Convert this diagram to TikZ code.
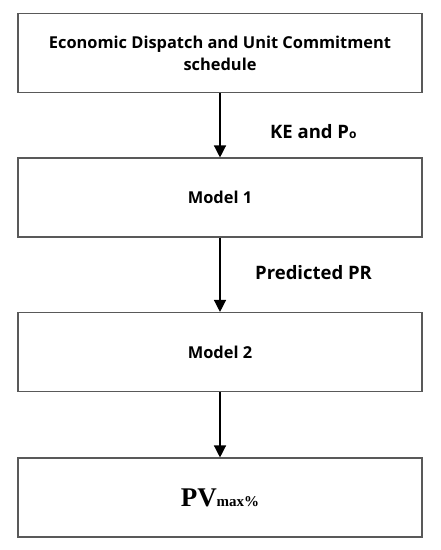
\documentclass[tikz,border=0pt]{standalone}
\usepackage{fontspec}
\setmainfont{Open Sans}
\newfontfamily\pvfont{Liberation Serif}
\usetikzlibrary{arrows.meta}
\begin{document}
\begin{tikzpicture}[x=1pt,y=1pt,
  box/.style={draw=black!65,line width=1.1pt,minimum width=404pt,minimum height=79pt,inner sep=0pt,align=center,
    font=\fontsize{16.4}{22}\selectfont\bfseries},
  flow/.style={-{Triangle[length=12pt,width=12pt]},line width=1.3pt},
  lbl/.style={font=\fontsize{18.5}{20}\selectfont\bfseries,inner sep=0pt}]
\useasboundingbox (0,0) rectangle (440,-550);
\node[box] (b1) at (220,-53) {Economic Dispatch and Unit Commitment\\schedule};
\node[box] (b2) at (220,-197.5) {Model 1};
\node[box] (b3) at (220,-352) {Model 2};
\node[box] (b4) at (220,-497.5) {{\pvfont\bfseries\fontsize{27}{27}\selectfont PV}{\pvfont\bfseries\fontsize{15}{15}\selectfont max\%}};
\draw[flow] (b1) -- (b2);
\draw[flow] (b2) -- (b3);
\draw[flow] (b3) -- (b4);
\node[lbl,anchor=base west] (l1) at (270,-138) {KE and P{\fontsize{12}{12}\selectfont o}};
\node[lbl,anchor=base west] (l2) at (255,-279) {Predicted PR};
\end{tikzpicture}
\end{document}
